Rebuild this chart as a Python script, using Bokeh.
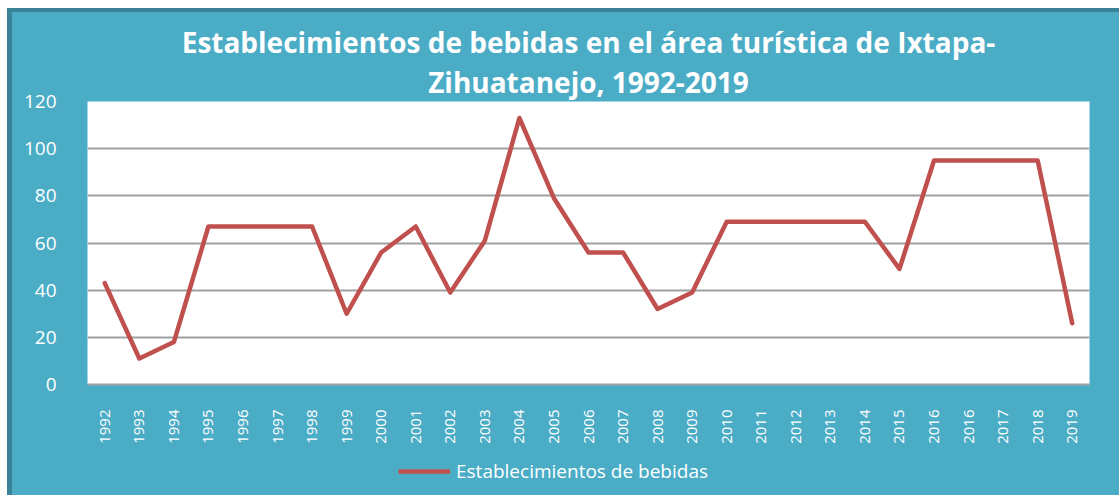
import math
from bokeh.plotting import figure
from bokeh.layouts import column
from bokeh.models import (Range1d, FixedTicker, Legend, LegendItem, Title,
                          ColumnDataSource)
from bokeh.embed import file_html
from bokeh.resources import INLINE

# ---- data ----
years = ["1992", "1993", "1994", "1995", "1996", "1997", "1998", "1999", "2000",
         "2001", "2002", "2003", "2004", "2005", "2006", "2007", "2008", "2009",
         "2010", "2011", "2012", "2013", "2014", "2015", "2016", "2016", "2017",
         "2018", "2019"]
establecimientos = [43, 11, 18, 67, 67, 67, 67, 30, 56, 67, 39, 61, 113, 79,
                    56, 56, 32, 39, 69, 69, 69, 69, 69, 49, 95, 95, 95, 95, 26]
y_ticks = [0, 20, 40, 60, 80, 100, 120]
series_name = "Establecimientos de bebidas"
title_line1 = "Establecimientos de bebidas en el área turística de Ixtapa-"
title_line2 = "Zihuatanejo, 1992-2019"

TEAL = "#4BACC6"
DARK = "#3A8296"
RED = "#C0504D"
GRID = "#A0A0A0"

idx = list(range(len(years)))
src = ColumnDataSource(dict(x=idx, y=establecimientos))

# ---- main chart ----
p = figure(width=1119, height=446, title=None,
           output_backend="svg", toolbar_location=None,
           x_range=Range1d(-0.5, len(years) - 0.5), y_range=Range1d(0, 120),
           min_border_left=87, min_border_right=30, min_border_top=101,
           min_border_bottom=62)
p.styles = {"background-color": TEAL,
            "box-shadow": "inset 7px 8px 0 0 #ffffff, inset 12px 12px 0 0 " + DARK}
p.background_fill_color = "white"
p.border_fill_color = None
p.outline_line_color = None

p.add_layout(Title(text=title_line2, align="center", text_font="Open Sans",
                   text_font_size="28px", text_font_style="bold",
                   text_color="white", standoff=1), "above")
p.add_layout(Title(text=title_line1, align="center", text_font="Open Sans",
                   text_font_size="28px", text_font_style="bold",
                   text_color="white", standoff=0), "above")

p.xaxis.ticker = FixedTicker(ticks=idx)
p.xaxis.major_label_overrides = {i: years[i] for i in idx}
p.xaxis.major_label_orientation = math.pi / 2
p.xaxis.major_label_text_font = "Open Sans"
p.xaxis.major_label_text_font_size = "15px"
p.xaxis.major_label_text_color = "white"
p.xaxis.major_label_standoff = 19
p.xaxis.major_tick_line_color = None
p.xaxis.minor_tick_line_color = None
p.xaxis.axis_line_color = GRID
p.xaxis.axis_line_width = 2

p.yaxis.ticker = FixedTicker(ticks=y_ticks)
p.yaxis.major_label_text_font = "Open Sans"
p.yaxis.major_label_text_font_size = "19px"
p.yaxis.major_label_text_color = "white"
p.yaxis.major_label_standoff = 25
p.yaxis.major_tick_line_color = None
p.yaxis.minor_tick_line_color = None
p.yaxis.axis_line_color = None

p.xgrid.grid_line_color = None
p.ygrid.ticker = FixedTicker(ticks=y_ticks)
p.ygrid.grid_line_color = GRID
p.ygrid.grid_line_width = 2

p.line("x", "y", source=src, line_color=RED, line_width=4.5,
       line_join="round", line_cap="round")

# ---- legend strip below the chart ----
lg = figure(width=1119, height=49, output_backend="svg", toolbar_location=None,
            x_axis_type=None, y_axis_type=None, min_border=0,
            x_range=Range1d(0, 1), y_range=Range1d(-2, -1))
lg.styles = {"background-color": TEAL,
             "box-shadow": "inset 7px 0 0 0 #ffffff, inset 12px 0 0 0 " + DARK}
lg.background_fill_color = None
lg.border_fill_color = None
lg.outline_line_color = None
lg.grid.visible = False
# same series, kept outside this strip's visible range: only its legend glyph shows
sample = lg.line("x", "y", source=src, line_color=RED, line_width=4.5)

legend = Legend(items=[LegendItem(label=series_name, renderers=[sample])],
                orientation="horizontal", location=(311, 11),
                label_text_font="Open Sans", label_text_font_size="19px",
                label_text_color="white", background_fill_alpha=0,
                border_line_color=None, glyph_width=52, glyph_height=20,
                label_standoff=6, margin=0, padding=0)
lg.add_layout(legend, "center")

layout = column(p, lg, spacing=0)
open("out.html", "w").write(file_html(layout, INLINE))
